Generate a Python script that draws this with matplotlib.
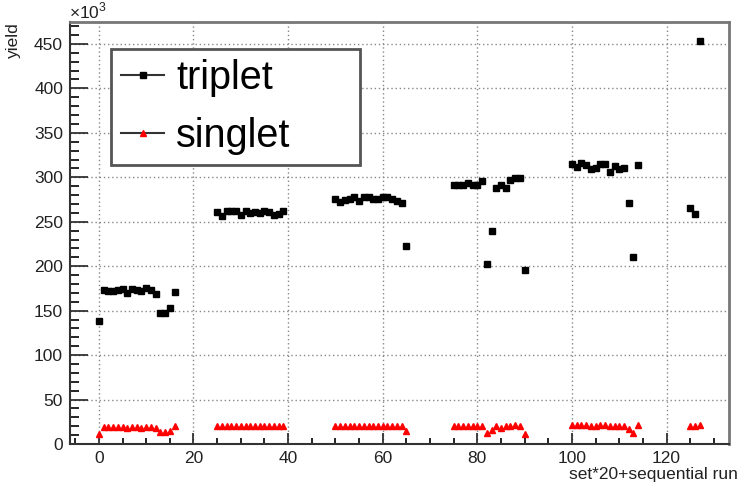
import matplotlib
matplotlib.use('Agg')
import matplotlib.pyplot as plt
from matplotlib.ticker import MultipleLocator
from matplotlib.lines import Line2D

plt.rcParams['font.family'] = ['Liberation Sans', 'DejaVu Sans']
plt.rcParams['mathtext.fontset'] = 'custom'
plt.rcParams['mathtext.rm'] = 'Liberation Sans'

# run index = set*20 + sequential run
run_g1 = list(range(0, 17))
run_g2 = list(range(25, 40))
run_g3 = list(range(50, 66))
run_g4 = list(range(75, 91))
run_g5 = list(range(100, 115))
run_g6 = [125, 126, 127]
runs = run_g1 + run_g2 + run_g3 + run_g4 + run_g5 + run_g6

# yields in units of 10^3
triplet = [
    137.8, 172.7, 171.6, 171.6, 172.7, 173.9, 169.7, 173.9, 172.7, 171.6, 175.8, 172.7, 168.2, 147.2, 147.2, 152.5, 170.5,
    260.8, 256.3, 262.0, 262.0, 262.0, 257.9, 262.0, 259.7, 260.8, 259.7, 262.0, 260.8, 257.1, 259.0, 262.0,
    275.1, 272.1, 274.0, 275.1, 277.7, 273.2, 277.7, 277.7, 275.1, 275.1, 277.7, 277.7, 275.1, 273.2, 271.4, 222.2,
    291.7, 291.7, 291.7, 293.5, 291.7, 291.7, 295.7, 202.0, 239.1, 288.3, 290.9, 288.3, 297.3, 299.5, 299.5, 196.0,
    314.5, 311.5, 316.0, 313.4, 308.9, 310.8, 314.5, 314.5, 305.8, 312.3, 308.9, 310.8, 271.0, 210.2, 313.4,
    265.8, 259.0, 452.9,
]
singlet = [
    10.7, 18.9, 18.9, 18.9, 18.9, 18.9, 17.8, 18.9, 18.9, 17.8, 18.9, 18.9, 17.8, 13.3, 13.3, 14.5, 19.7,
    20.0, 20.0, 20.0, 20.0, 20.0, 20.0, 20.0, 20.0, 20.0, 20.0, 20.0, 20.0, 20.0, 20.0, 20.0,
    20.8, 20.8, 20.8, 20.8, 20.8, 20.8, 20.8, 20.8, 20.8, 20.8, 20.8, 20.8, 20.8, 20.8, 20.8, 14.4,
    19.7, 19.7, 19.7, 19.7, 19.7, 19.7, 19.7, 12.6, 16.0, 19.7, 18.2, 19.7, 19.7, 21.6, 19.7, 11.5,
    21.9, 21.9, 21.9, 21.9, 20.0, 20.0, 21.9, 21.9, 20.0, 20.0, 20.0, 20.0, 17.1, 12.2, 21.9,
    20.0, 20.0, 21.6,
]

fig = plt.figure(figsize=(7.47, 4.92), dpi=100, facecolor='white')
ax = fig.add_axes([70 / 747, 48 / 492, 659 / 747, 422.3 / 492])

ax.plot(runs, triplet, linestyle='none', marker='s', color='black', markersize=4.2)
ax.plot(runs, singlet, linestyle='none', marker='^', color='red', markersize=3.8)

ax.set_xlim(-6.1, 133.2)
ax.set_ylim(0, 475)

ax.xaxis.set_major_locator(MultipleLocator(20))
ax.xaxis.set_minor_locator(MultipleLocator(5))
ax.yaxis.set_major_locator(MultipleLocator(50))
ax.yaxis.set_minor_locator(MultipleLocator(10))

ax.tick_params(axis='x', which='major', direction='in', length=8, width=1.2, labelsize=12.5, pad=5, colors='#222222')
ax.tick_params(axis='x', which='minor', direction='in', length=4.5, width=1.2)
ax.tick_params(axis='y', which='major', direction='in', length=13, width=1.2, labelsize=12.5, pad=5, colors='#222222')
ax.tick_params(axis='y', which='minor', direction='in', length=6.5, width=1.2)

ax.grid(True, which='major', linestyle=(0, (1, 2)), color='#888888', linewidth=1)

for side in ['left', 'bottom']:
    ax.spines[side].set_color('#333333')
    ax.spines[side].set_linewidth(1.5)
for side in ['top', 'right']:
    ax.spines[side].set_color('#777777')
    ax.spines[side].set_linewidth(2)

fig.text(69 / 747, 1 - 21 / 492, r'$\times10^{3}$', ha='left', va='bottom', fontsize=12.5, color='#222222')
fig.text(13 / 747, 1 - 22 / 492, 'yield', rotation=90, ha='center', va='top', fontsize=12.5, color='#222222')
fig.text(738 / 747, 1 - 467 / 492, 'set*20+sequential run', ha='right', va='top', fontsize=12.5, color='#222222')

handles = [
    Line2D([], [], color='#333333', linewidth=1.5, marker='s', markersize=4.2, markerfacecolor='black', markeredgecolor='black'),
    Line2D([], [], color='#333333', linewidth=1.5, marker='^', markersize=3.8, markerfacecolor='red', markeredgecolor='red'),
]
leg = ax.legend(handles, ['triplet', 'singlet'], loc='upper left', bbox_to_anchor=(0.062, 0.67, 0.378, 0.265),
                mode='expand', borderaxespad=0, fontsize=28.5, handlelength=1.1, handletextpad=0.3,
                labelspacing=0.5, borderpad=0.25, fancybox=False, framealpha=1, edgecolor='#555555')
leg.get_frame().set_linewidth(2)

fig.savefig('out.png', dpi=100, facecolor='white')
